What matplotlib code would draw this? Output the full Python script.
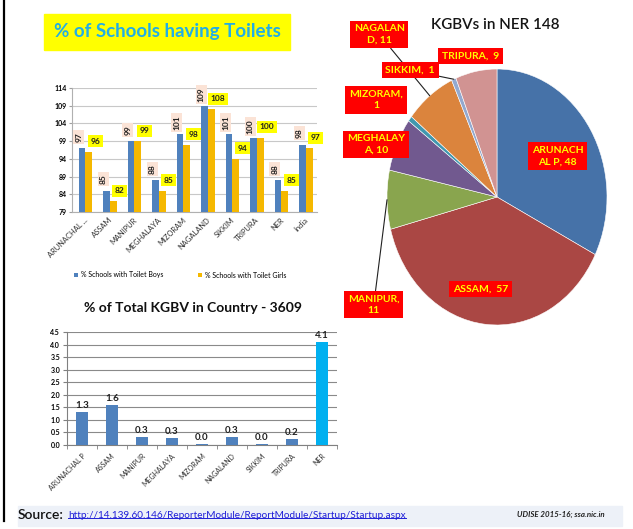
import numpy as np
import matplotlib
matplotlib.use('Agg')
import matplotlib.pyplot as plt
from matplotlib.lines import Line2D
from matplotlib.patches import Rectangle

plt.rcParams['font.family'] = ['Lato', 'DejaVu Sans']

# toilets chart
toilet_states = ['ARUNACHAL ...', 'ASSAM', 'MANIPUR', 'MEGHALAYA', 'MIZORAM',
                 'NAGALAND', 'SIKKIM', 'TRIPURA', 'NER', 'India']
toilet_boys = [97, 85, 99, 88, 101, 109, 101, 100, 88, 98]
toilet_girls = [96, 82, 99, 85, 98, 108, 94, 100, 85, 97]

# share of KGBVs in the country
kgbv_states = ['ARUNACHAL P', 'ASSAM', 'MANIPUR', 'MEGHALAYA', 'MIZORAM',
               'NAGALAND', 'SIKKIM', 'TRIPURA', 'NER']
kgbv_share = [1.33, 1.58, 0.30, 0.28, 0.03, 0.30, 0.03, 0.25, 4.10]

# KGBVs in the north east
pie_labels = ['ARUNACH\nAL P, 48', 'ASSAM,  57', 'MANIPUR,\n11', 'MEGHALAY\nA, 10',
              'MIZORAM,\n1', 'NAGALAN\nD, 11', 'SIKKIM,  1', 'TRIPURA,  9']
pie_counts = [48, 57, 11, 10, 1, 11, 1, 9]
pie_colors = ['#4672a8', '#aa4744', '#89a54e', '#71598f', '#4198af',
              '#db843d', '#93a9cf', '#d19392']

W, H = 633, 529
fig = plt.figure(figsize=(W / 100, H / 100), dpi=100)


def box(x0, y0, x1, y1):
    # pixel box -> figure fraction rect
    return [x0 / W, 1 - y1 / H, (x1 - x0) / W, (y1 - y0) / H]


def fit_width(txt, px):
    # shrink/grow a text so it spans px pixels
    fig.canvas.draw()
    w = txt.get_window_extent().width
    txt.set_fontsize(txt.get_fontsize() * px / w)


# left frame line
fig.add_artist(Line2D([4 / W, 4 / W], [1 - 521 / H, 1], color='black', lw=1.6))

# ---- title of the toilets chart
fig.add_artist(Rectangle((44 / W, 1 - 50 / H), 246 / W, 36 / H,
                         transform=fig.transFigure, color='#ffff00', zorder=0))
fig.text(167 / W, 1 - 32 / H, '% of Schools having Toilets', ha='center', va='center',
         fontsize=13.5, fontweight='bold', color='#22aee6')

# ---- toilets bar chart
ax1 = fig.add_axes(box(72, 88, 317, 212))
x = np.arange(len(toilet_states))
bw = 0.27
ax1.bar(x - bw / 2 + 0.05, toilet_boys, bw, color='#4f81bd', label='% Schools with Toilet Boys', zorder=3)
ax1.bar(x + bw / 2 + 0.05, toilet_girls, bw, color='#f5b800', label='% Schools with Toilet Girls', zorder=3)
ax1.set_ylim(79, 114)
ax1.set_xlim(-0.5, len(toilet_states) - 0.5)
ax1.set_yticks(np.arange(79, 115, 5))
ax1.yaxis.grid(True, color='#c8c8c8', lw=0.8, zorder=0)
ax1.set_xticks(x)
ax1.set_xticklabels(toilet_states, rotation=45, ha='right', rotation_mode='anchor',
                    fontsize=5.4, color='#303030')
for lab in ax1.get_yticklabels():
    lab.set_fontsize(5)
    lab.set_fontweight('bold')
ax1.tick_params(axis='x', length=0, pad=3)
ax1.tick_params(axis='y', length=2, pad=2, color='#a0a0a0')
for s in ['top', 'right']:
    ax1.spines[s].set_visible(False)
ax1.spines['left'].set_color('#b0b0b0')
ax1.spines['bottom'].set_color('#b0b0b0')
for i, (b, g) in enumerate(zip(toilet_boys, toilet_girls)):
    ax1.text(i - 0.22, b + 3.2, str(b), rotation=90, ha='center', va='center', fontsize=6,
             fontweight='bold', color='#202020',
             bbox=dict(boxstyle='square,pad=0.25', fc='#fbe3d6', ec='none'), zorder=4)
    ax1.text(i + 0.45, g + 3.0, str(g), ha='center', va='center', fontsize=6,
             fontweight='bold', color='#202020',
             bbox=dict(boxstyle='square,pad=0.3', fc='#ffff00', ec='none'), zorder=4)
fig.legend(*ax1.get_legend_handles_labels(), loc='center', ncol=2,
           bbox_to_anchor=(180 / W, 1 - 275 / H), frameon=False, fontsize=5,
           handlelength=0.6, handleheight=0.6, columnspacing=5, handletextpad=0.4)

# ---- KGBV share bar chart
fig.text(193 / W, 1 - 308 / H, '% of Total KGBV in Country - 3609', ha='center', va='center',
         fontsize=10, fontweight='bold', color='#101010')
ax2 = fig.add_axes(box(67, 332, 337, 445))
x2 = np.arange(len(kgbv_states))
colors2 = ['#4f81bd'] * (len(kgbv_states) - 1) + ['#00b0f0']
ax2.bar(x2, kgbv_share, 0.42, color=colors2, zorder=3)
ax2.set_ylim(0, 4.5)
ax2.set_xlim(-0.5, len(kgbv_states) - 0.5)
ax2.set_yticks(np.arange(0, 4.51, 0.5))
ax2.set_yticklabels(['%.1f' % v for v in np.arange(0, 4.51, 0.5)], fontsize=5, fontweight='bold')
ax2.yaxis.grid(True, color='#8a8a8a', lw=0.8, zorder=0)
ax2.set_xticks(x2)
ax2.set_xticklabels(kgbv_states, rotation=45, ha='right', rotation_mode='anchor',
                    fontsize=5, color='#303030')
ax2.set_xticks(np.arange(-0.5, len(kgbv_states)), minor=True)
ax2.tick_params(axis='x', which='major', length=0, pad=5)
ax2.tick_params(axis='x', which='minor', length=3, color='#808080')
ax2.tick_params(axis='y', length=3, pad=2, color='#808080')
for s in ['top', 'right']:
    ax2.spines[s].set_visible(False)
ax2.spines['left'].set_color('#808080')
ax2.spines['bottom'].set_color('#808080')
for i, v in enumerate(kgbv_share):
    ax2.text(i, v + 0.08, '%.1f' % v, ha='center', va='bottom', fontsize=7,
             fontweight='bold', color='#202020', zorder=4)

# ---- KGBV pie
fig.text(495 / W, 1 - 25 / H, 'KGBVs in NER 148', ha='center', va='center',
         fontsize=11, fontweight='semibold', color='#151515')
ax3 = fig.add_axes(box(387, 69, 607, 325))
wedges, _ = ax3.pie(pie_counts, colors=pie_colors, startangle=90, counterclock=False,
                    wedgeprops=dict(edgecolor='white', linewidth=0.4))
ax3.set_aspect('auto')
ax3.set_xlim(-1, 1)
ax3.set_ylim(-1, 1)

label_pos = [(0.55, 0.32), (-0.15, -0.72), (-1.12, -0.84), (-1.10, 0.41),
             (-1.10, 0.76), (-1.07, 1.27), (-0.79, 0.99), (-0.24, 1.10)]
leader = {2, 5, 6}
for i, (w, lab, pos) in enumerate(zip(wedges, pie_labels, label_pos)):
    kw = dict(ha='center', va='center', fontsize=7.5, fontweight='bold', color='#ffff00',
              linespacing=1.35, bbox=dict(boxstyle='square,pad=0.35', fc='#ff0000', ec='none'),
              annotation_clip=False)
    if i in leader:
        ang = np.deg2rad((w.theta1 + w.theta2) / 2)
        ax3.annotate(lab, xy=(np.cos(ang), np.sin(ang)), xytext=pos,
                     arrowprops=dict(arrowstyle='-', color='#202020', lw=0.8,
                                     shrinkA=0, shrinkB=0), **kw)
    else:
        ax3.annotate(lab, xy=pos, **kw)

# ---- source footer
fig.add_artist(Rectangle((18 / W, 1 - 526 / H), 604 / W, 20 / H,
                         transform=fig.transFigure, color='#edf1f8', zorder=0))
src = fig.text(18 / W, 1 - 515 / H, 'Source:', ha='left', va='center', fontsize=9.5,
               fontweight='semibold', color='#111111')
url = fig.text(68 / W, 1 - 515 / H, 'http://14.139.60.146/ReporterModule/ReportModule/Startup/Startup.aspx',
               ha='left', va='center', fontsize=9.5, color='#1f1fd8')
note = fig.text(605 / W, 1 - 514 / H, 'UDISE 2015-16; ssa.nic.in', ha='right', va='center',
                fontsize=6, fontstyle='italic', fontweight='bold', color='#202020')
fit_width(src, 46)
fit_width(url, 340)
fit_width(note, 88)

# underline the link
fig.canvas.draw()
bb = url.get_window_extent().transformed(fig.transFigure.inverted())
fig.add_artist(Line2D([bb.x0, bb.x1], [bb.y0 + 0.003, bb.y0 + 0.003], color='#1f1fd8', lw=0.7))

fig.savefig('out.png', dpi=100)
